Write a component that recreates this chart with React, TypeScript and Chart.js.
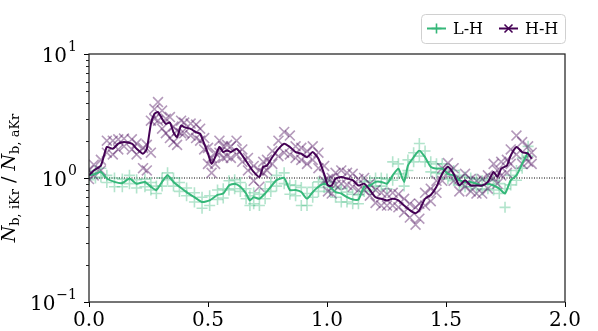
import React, { useEffect, useRef } from 'react';
import { Chart, registerables } from 'chart.js';

Chart.register(...registerables);

// ---- data ----
const seriesNames = ['L-H', 'H-H'];

const lhX = [0, 0.027, 0.05, 0.075, 0.107, 0.14, 0.17, 0.2, 0.235, 0.26, 0.283, 0.307, 0.33, 0.355, 0.38, 0.41, 0.443, 0.475, 0.507, 0.54, 0.564, 0.588, 0.612, 0.636, 0.66, 0.676, 0.692, 0.716, 0.74, 0.764, 0.788, 0.82, 0.844, 0.868, 0.892, 0.916, 0.94, 0.964, 0.988, 1.012, 1.036, 1.06, 1.084, 1.108, 1.132, 1.156, 1.18, 1.204, 1.228, 1.252, 1.276, 1.3, 1.324, 1.34, 1.364, 1.388, 1.412, 1.436, 1.46, 1.484, 1.508, 1.532, 1.556, 1.58, 1.604, 1.628, 1.652, 1.676, 1.7, 1.724, 1.748, 1.772, 1.796, 1.82, 1.845];
const lhLine = [1.05, 1.08, 1.12, 0.99, 0.93, 0.91, 0.99, 0.9, 0.93, 0.85, 0.8, 0.93, 1.05, 0.93, 0.85, 0.77, 0.7, 0.64, 0.66, 0.73, 0.75, 0.87, 0.9, 0.85, 0.75, 0.66, 0.7, 0.68, 0.75, 0.85, 0.96, 1.0, 0.8, 0.8, 0.77, 0.68, 0.77, 0.85, 0.9, 0.85, 0.77, 0.75, 0.7, 0.67, 0.67, 0.85, 0.87, 0.93, 0.93, 0.9, 1.05, 1.19, 0.93, 1.26, 1.47, 1.67, 1.47, 1.23, 1.19, 1.19, 1.08, 1.05, 0.96, 0.93, 0.93, 0.9, 0.87, 0.9, 0.87, 0.82, 0.75, 0.96, 1.05, 1.3, 1.62];
const lhPtsA = [1.1, 1.15, 1.2, 1.05, 1.0, 0.98, 1.05, 0.97, 0.98, 0.92, 0.86, 1.0, 1.1, 1.0, 0.92, 0.83, 0.76, 0.7, 0.72, 0.8, 0.82, 0.95, 0.97, 0.92, 0.82, 0.72, 0.76, 0.74, 0.82, 0.93, 1.05, 1.1, 0.88, 0.87, 0.84, 0.75, 0.84, 0.93, 0.97, 0.93, 0.84, 0.82, 0.77, 0.74, 0.73, 0.93, 0.95, 1.0, 1.0, 0.98, 1.35, 1.3, 1.02, 1.4, 1.6, 1.9, 1.65, 1.35, 1.3, 1.3, 1.18, 1.15, 1.05, 1.02, 1.0, 0.98, 0.95, 0.98, 0.95, 0.9, 0.82, 1.05, 1.15, 1.45, 1.8];
const lhPtsB = [0.97, 1.0, 1.02, 0.92, 0.85, 0.85, 0.9, 0.83, 0.85, 0.8, 0.75, 0.86, 0.97, 0.86, 0.78, 0.72, 0.64, 0.57, 0.6, 0.67, 0.69, 0.8, 0.82, 0.78, 0.68, 0.6, 0.62, 0.6, 0.68, 0.78, 0.86, 0.9, 0.74, 0.72, 0.6, 0.6, 0.7, 0.78, 0.84, 0.78, 0.7, 0.64, 0.64, 0.62, 0.62, 0.78, 0.8, 0.86, 0.86, 0.82, 0.96, 1.08, 0.86, 1.15, 1.35, 1.5, 1.35, 1.12, 1.1, 1.08, 0.98, 0.95, 0.88, 0.85, 0.85, 0.82, 0.8, 0.82, 0.8, 0.75, 0.58, 0.88, 0.96, 1.2, 1.5];

const hhX = [0, 0.02, 0.05, 0.075, 0.1, 0.123, 0.147, 0.18, 0.2, 0.227, 0.243, 0.26, 0.275, 0.29, 0.307, 0.323, 0.34, 0.355, 0.37, 0.387, 0.4, 0.427, 0.45, 0.467, 0.484, 0.5, 0.515, 0.53, 0.548, 0.564, 0.58, 0.596, 0.62, 0.644, 0.668, 0.692, 0.716, 0.732, 0.748, 0.77, 0.796, 0.82, 0.844, 0.868, 0.892, 0.916, 0.94, 0.964, 0.988, 1.004, 1.02, 1.036, 1.06, 1.084, 1.108, 1.132, 1.156, 1.18, 1.204, 1.228, 1.252, 1.276, 1.3, 1.324, 1.348, 1.372, 1.388, 1.412, 1.436, 1.46, 1.484, 1.508, 1.532, 1.556, 1.58, 1.604, 1.628, 1.652, 1.676, 1.7, 1.716, 1.732, 1.756, 1.772, 1.796, 1.82, 1.845, 1.86];
const hhLine = [1.05, 1.15, 1.26, 1.78, 1.72, 1.89, 1.95, 1.89, 1.72, 1.57, 1.72, 2.73, 3.29, 3.4, 3.0, 2.73, 2.8, 2.34, 2.14, 2.65, 2.57, 2.49, 2.34, 2.27, 1.89, 1.57, 1.3, 1.47, 1.78, 1.62, 1.67, 1.62, 1.72, 1.52, 1.3, 1.12, 1.02, 1.23, 1.26, 1.47, 1.72, 1.89, 1.78, 1.62, 1.57, 1.47, 1.62, 1.43, 1.08, 0.87, 0.87, 0.99, 1.02, 0.99, 0.96, 0.87, 0.9, 0.8, 0.7, 0.68, 0.66, 0.68, 0.66, 0.6, 0.55, 0.52, 0.55, 0.68, 0.73, 0.85, 1.08, 1.23, 1.08, 0.87, 0.96, 0.87, 0.87, 0.87, 0.93, 1.12, 1.02, 1.19, 1.26, 1.52, 1.78, 1.62, 1.57, 1.43];
const hhPtsA = [1.15, 1.28, 1.4, 2.0, 2.0, 2.05, 2.08, 2.05, 1.9, 1.75, 1.85, 2.9, 3.6, 4.1, 3.5, 3.0, 3.1, 2.6, 2.4, 2.9, 2.8, 2.75, 2.7, 2.5, 2.1, 1.75, 1.45, 1.6, 2.0, 1.8, 1.85, 1.8, 2.0, 1.7, 1.45, 1.25, 1.15, 1.35, 1.4, 1.65, 2.0, 2.35, 2.2, 1.8, 1.75, 1.65, 1.8, 1.6, 1.25, 0.98, 1.0, 1.1, 1.15, 1.1, 1.08, 0.98, 1.0, 0.9, 0.8, 0.76, 0.74, 0.76, 0.74, 0.68, 0.62, 0.58, 0.62, 0.76, 0.82, 0.95, 1.2, 1.32, 1.2, 0.98, 1.08, 0.98, 0.95, 0.98, 1.05, 1.3, 1.15, 1.35, 1.4, 1.7, 2.2, 1.95, 1.8, 1.6];
const hhPtsB = [0.98, 1.05, 1.15, 1.6, 1.55, 1.7, 1.8, 1.7, 1.55, 1.2, 1.15, 1.6, 3.0, 2.9, 2.5, 2.3, 2.1, 1.95, 1.85, 2.3, 2.3, 2.2, 2.1, 2.0, 1.7, 1.3, 1.1, 1.3, 1.6, 1.45, 1.5, 1.45, 1.55, 1.35, 1.15, 0.95, 0.85, 1.1, 1.15, 1.3, 1.5, 1.6, 1.55, 1.45, 1.4, 1.3, 1.4, 1.2, 0.95, 0.78, 0.75, 0.88, 0.9, 0.88, 0.85, 0.8, 0.8, 0.72, 0.63, 0.6, 0.6, 0.6, 0.58, 0.53, 0.48, 0.42, 0.47, 0.6, 0.65, 0.76, 0.95, 1.1, 0.95, 0.78, 0.85, 0.78, 0.75, 0.75, 0.82, 1.0, 0.9, 1.05, 1.1, 1.3, 1.55, 1.3, 1.35, 1.3];

const referenceLevel = 1;
const xRange = [0, 2];
const xTicks = [0, 0.5, 1, 1.5, 2];
const yRange = [0.1, 10];
const yTicks = [0.1, 1, 10];
const yTickExponents = ['\u22121', '0', '1'];
const yMinorTicks = [0.2, 0.3, 0.4, 0.5, 0.6, 0.7, 0.8, 0.9, 2, 3, 4, 5, 6, 7, 8, 9];
const yTitleParts = [
  { text: 'N', kind: 'main-italic' },
  { text: 'b, iKr', kind: 'sub' },
  { text: ' / ', kind: 'main' },
  { text: 'N', kind: 'main-italic' },
  { text: 'b, aKr', kind: 'sub' },
];

// ---- styles ----
const GREEN = '#35b779';
const GREEN_A = 'rgba(53,183,121,0.38)';
const PURPLE = '#440154';
const PURPLE_A = 'rgba(68,1,84,0.4)';
const FONT = '"DejaVu Serif", serif';

const toPts = (xs: number[], ys: number[]) => xs.map((x, i) => ({ x, y: ys[i] }));

const decorPlugin = {
  id: 'decor',
  afterDraw(chart: any) {
    const { ctx, chartArea } = chart;
    const ys = chart.scales.y;
    const { left, right, top, bottom } = chartArea;
    ctx.save();
    // frame
    ctx.strokeStyle = '#222';
    ctx.lineWidth = 1.25;
    ctx.strokeRect(left, top, right - left, bottom - top);
    // minor ticks
    ctx.lineWidth = 1;
    ctx.beginPath();
    yMinorTicks.forEach((v) => {
      const py = Math.round(ys.getPixelForValue(v)) + 0.5;
      ctx.moveTo(left - 3, py);
      ctx.lineTo(left, py);
    });
    ctx.stroke();
    // y tick labels with superscripts
    ctx.fillStyle = '#000';
    ctx.textBaseline = 'alphabetic';
    yTicks.forEach((v, i) => {
      const py = ys.getPixelForValue(v);
      ctx.font = `14px ${FONT}`;
      ctx.textAlign = 'right';
      const ew = ctx.measureText(yTickExponents[i]).width;
      const rightEdge = left - 12;
      ctx.fillText(yTickExponents[i], rightEdge, py - 3);
      ctx.font = `20px ${FONT}`;
      ctx.fillText('10', rightEdge - ew - 1, py + 7.5);
    });
    // y title
    ctx.translate(15, (top + bottom) / 2);
    ctx.rotate(-Math.PI / 2);
    const fontFor = (k: string) =>
      k === 'sub' ? `13px ${FONT}` : k === 'main-italic' ? `italic 19px ${FONT}` : `19px ${FONT}`;
    let total = 0;
    yTitleParts.forEach((p) => {
      ctx.font = fontFor(p.kind);
      total += ctx.measureText(p.text).width;
    });
    let cx = -total / 2;
    ctx.textAlign = 'left';
    yTitleParts.forEach((p) => {
      ctx.font = fontFor(p.kind);
      ctx.fillText(p.text, cx, p.kind === 'sub' ? 4 : 0);
      cx += ctx.measureText(p.text).width;
    });
    ctx.restore();

    // legend
    ctx.save();
    const bx = 421.5, by = 14.5, bw = 144, bh = 29, r = 4;
    ctx.beginPath();
    ctx.moveTo(bx + r, by);
    ctx.lineTo(bx + bw - r, by);
    ctx.quadraticCurveTo(bx + bw, by, bx + bw, by + r);
    ctx.lineTo(bx + bw, by + bh - r);
    ctx.quadraticCurveTo(bx + bw, by + bh, bx + bw - r, by + bh);
    ctx.lineTo(bx + r, by + bh);
    ctx.quadraticCurveTo(bx, by + bh, bx, by + bh - r);
    ctx.lineTo(bx, by + r);
    ctx.quadraticCurveTo(bx, by, bx + r, by);
    ctx.closePath();
    ctx.fillStyle = 'rgba(255,255,255,0.85)';
    ctx.fill();
    ctx.strokeStyle = '#d0d0d0';
    ctx.lineWidth = 1;
    ctx.stroke();
    const items = [
      { name: seriesNames[0], color: GREEN, style: 'plus', x0: 427 },
      { name: seriesNames[1], color: PURPLE, style: 'x', x0: 499 },
    ];
    const ly = 28.5;
    items.forEach((it) => {
      ctx.strokeStyle = it.color;
      ctx.lineWidth = 2;
      ctx.beginPath();
      ctx.moveTo(it.x0, ly);
      ctx.lineTo(it.x0 + 19, ly);
      ctx.stroke();
      const mx = it.x0 + 9.5;
      ctx.lineWidth = 1.6;
      ctx.beginPath();
      if (it.style === 'plus') {
        ctx.moveTo(mx - 5, ly); ctx.lineTo(mx + 5, ly);
        ctx.moveTo(mx, ly - 5); ctx.lineTo(mx, ly + 5);
      } else {
        ctx.moveTo(mx - 4, ly - 4); ctx.lineTo(mx + 4, ly + 4);
        ctx.moveTo(mx - 4, ly + 4); ctx.lineTo(mx + 4, ly - 4);
      }
      ctx.stroke();
      ctx.fillStyle = '#000';
      ctx.font = `16px ${FONT}`;
      ctx.textAlign = 'left';
      ctx.textBaseline = 'middle';
      ctx.fillText(it.name, it.x0 + 26, ly + 1);
    });
    ctx.restore();
  },
};

export default function App() {
  const ref = useRef<HTMLCanvasElement | null>(null);
  useEffect(() => {
    if (!ref.current) return;
    const chart = new Chart(ref.current, {
      type: 'scatter',
      data: {
        datasets: [
          {
            type: 'line',
            label: 'ref',
            data: [{ x: xRange[0], y: referenceLevel }, { x: xRange[1], y: referenceLevel }],
            borderColor: '#000',
            borderWidth: 1,
            borderDash: [1, 1.5],
            pointRadius: 0,
            order: 5,
          },
          {
            label: seriesNames[0] + ' pts',
            data: [...toPts(lhX, lhPtsA), ...toPts(lhX, lhPtsB)],
            pointStyle: 'cross',
            pointRadius: 5.5,
            borderColor: GREEN_A,
            backgroundColor: GREEN_A,
            pointBorderWidth: 1.6,
            showLine: false,
            order: 4,
          },
          {
            label: seriesNames[1] + ' pts',
            data: [...toPts(hhX, hhPtsA), ...toPts(hhX, hhPtsB)],
            pointStyle: 'crossRot',
            pointRadius: 7,
            borderColor: PURPLE_A,
            backgroundColor: PURPLE_A,
            pointBorderWidth: 1.6,
            showLine: false,
            order: 3,
          },
          {
            type: 'line',
            label: seriesNames[0],
            data: toPts(lhX, lhLine),
            borderColor: GREEN,
            borderWidth: 2,
            pointRadius: 0,
            tension: 0.2,
            order: 2,
          },
          {
            type: 'line',
            label: seriesNames[1],
            data: toPts(hhX, hhLine),
            borderColor: PURPLE,
            borderWidth: 2,
            pointRadius: 0,
            tension: 0.2,
            order: 1,
          },
        ],
      } as any,
      options: {
        responsive: false,
        animation: false,
        devicePixelRatio: 1,
        layout: { padding: { left: 0, top: 54, right: 33, bottom: 0 } },
        plugins: { legend: { display: false }, tooltip: { enabled: false } },
        scales: {
          x: {
            type: 'linear',
            min: xRange[0],
            max: xRange[1],
            afterBuildTicks: (s: any) => { s.ticks = xTicks.map((v) => ({ value: v })); },
            afterFit: (s: any) => { s.height = 29; },
            border: { display: false },
            grid: { drawOnChartArea: false, drawTicks: true, tickLength: 5, color: '#000', lineWidth: 1 },
            ticks: {
              color: '#000',
              padding: 2,
              maxRotation: 0,
              font: { family: FONT, size: 20 },
              callback: (v: any) => Number(v).toFixed(1),
            },
          },
          y: {
            type: 'logarithmic',
            min: yRange[0],
            max: yRange[1],
            afterBuildTicks: (s: any) => { s.ticks = yTicks.map((v) => ({ value: v, major: true })); },
            afterFit: (s: any) => { s.width = 89; },
            border: { display: false },
            grid: { drawOnChartArea: false, drawTicks: true, tickLength: 5, color: '#000', lineWidth: 1 },
            ticks: { display: false },
          },
        },
      } as any,
      plugins: [decorPlugin],
    });
    return () => chart.destroy();
  }, []);
  return (
    <div style={{ position: 'fixed', left: 0, top: 0, width: 598, height: 331, background: '#fff' }}>
      <canvas ref={ref} width={598} height={331} style={{ display: 'block' }} />
    </div>
  );
}
